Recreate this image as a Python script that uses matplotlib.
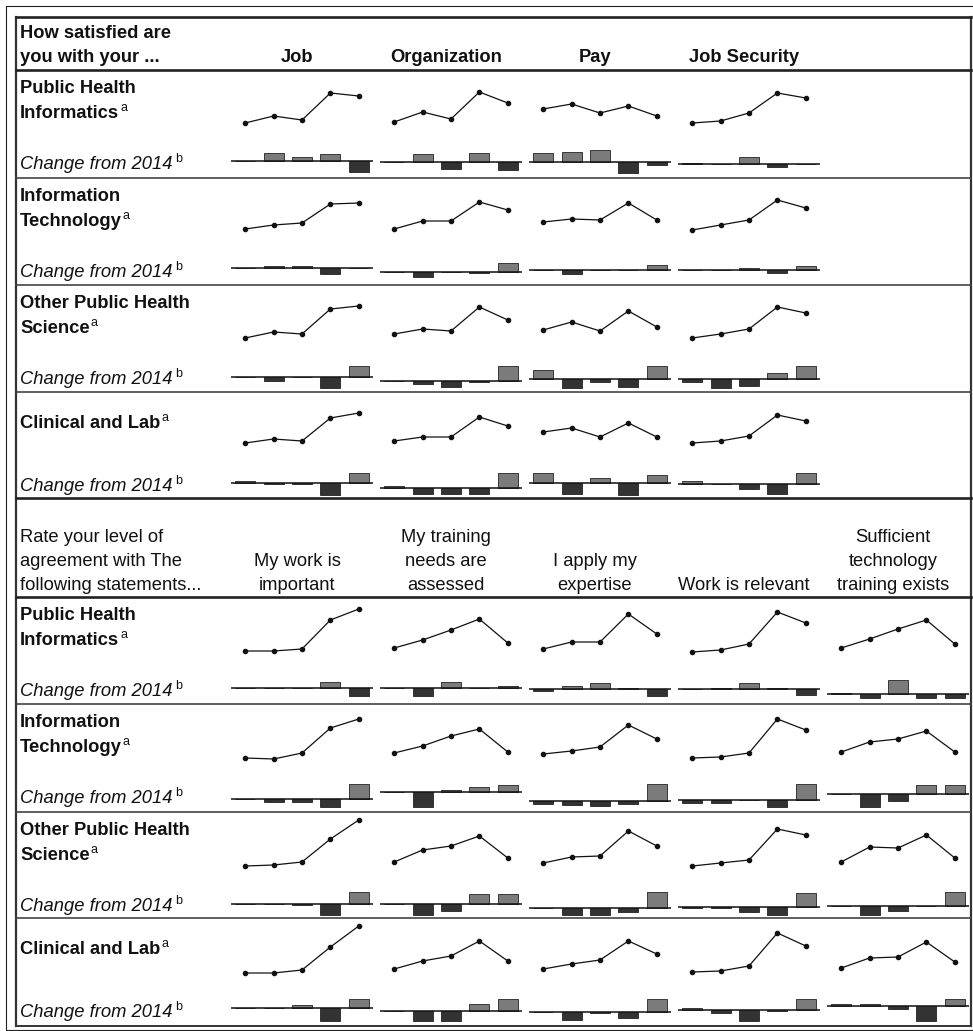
import matplotlib
matplotlib.use('Agg')
import matplotlib.pyplot as plt

W, H = 973, 1031

groups = ['Public Health\nInformatics', 'Information\nTechnology',
          'Other Public Health\nScience', 'Clinical and Lab']
change_label = 'Change from 2014'
sat_title = 'How satisfied are\nyou with your ...'
sat_questions = ['Job', 'Organization', 'Pay', 'Job Security']
agree_title = 'Rate your level of\nagreement with The\nfollowing statements...'
agree_questions = ['My work is\nimportant', 'My training\nneeds are\nassessed',
                   'I apply my\nexpertise', 'Work is relevant',
                   'Sufficient\ntechnology\ntraining exists']

# trend score over 5 survey waves, one list per question
sat_phi_trend = [[7, 14, 10, 37, 34], [8, 18, 11, 38, 27], [21, 26, 17, 24, 14], [7, 9, 17, 37, 32]]
sat_it_trend = [[9, 13, 15, 34, 35], [9, 17, 17, 36, 28], [16, 19, 18, 35, 18], [8, 13, 18, 38, 30]]
sat_ophs_trend = [[7, 13, 11, 36, 39], [11, 16, 14, 38, 25], [15, 23, 14, 34, 18], [7, 11, 16, 38, 32]]
sat_clin_trend = [[9, 13, 11, 34, 39], [11, 15, 15, 35, 26], [20, 24, 15, 29, 15], [9, 11, 16, 37, 31]]

# change from 2014
sat_phi_change = [[0, 8, 4, 7, -11], [0, 8, -7, 9, -8], [9, 10, 12, -11, -3], [1, 0, 7, -3, 0]]
sat_it_change = [[0, 2, 2, -6, 0], [0, -5, 0, -1, 9], [0, -4, 0, 0, 5], [0, 0, 2, -3, 4]]
sat_ophs_change = [[0, -4, 0, -11, 11], [0, -3, -6, -1, 15], [9, -9, -3, -8, 13], [-3, -9, -7, 6, 13]]
sat_clin_change = [[2, -1, -1, -12, 10], [2, -6, -6, -6, 15], [10, -11, 5, -12, 8], [3, 0, -5, -10, 11]]

agree_phi_trend = [[6, 6, 8, 37, 48], [9, 17, 27, 38, 14], [8, 15, 15, 43, 23], [5, 7, 13, 45, 34], [9, 18, 28, 37, 13]]
agree_it_trend = [[6, 5, 11, 36, 45], [11, 18, 28, 35, 12], [10, 13, 17, 39, 25], [6, 7, 11, 45, 34], [12, 22, 25, 33, 12]]
agree_ophs_trend = [[6, 7, 10, 33, 52], [10, 22, 26, 36, 14], [9, 15, 16, 41, 26], [6, 9, 12, 43, 37], [10, 25, 24, 37, 14]]
agree_clin_trend = [[5, 5, 8, 31, 52], [9, 17, 22, 37, 17], [9, 14, 18, 37, 24], [6, 7, 12, 45, 32], [10, 20, 21, 36, 16]]

agree_phi_change = [[0, 0, 0, 6, -8], [0, -8, 6, 0, 2], [-2, 3, 6, 1, -7], [0, 1, 6, 1, -6], [1, -4, 14, -4, -4]]
agree_it_change = [[0, -3, -3, -8, 15], [0, -15, 2, 5, 7], [-3, -4, -5, -3, 17], [-3, -3, 0, -7, 16], [0, -13, -7, 9, 9]]
agree_ophs_change = [[0, 0, -1, -11, 12], [0, -11, -7, 10, 10], [0, -7, -7, -4, 16], [-1, -1, -5, -8, 14], [0, -9, -5, 0, 14]]
agree_clin_change = [[0, 0, 3, -13, 9], [0, -10, -10, 7, 12], [0, -8, -1, -6, 13], [2, -3, -11, -1, 11], [2, 2, -3, -15, 7]]

FS = 13.2
SUP = 9


def frac(x, y, w, h):
    return [x / W, 1 - (y + h) / H, w / W, h / H]


def sparkline(fig, x, top, trend, change):
    ax = fig.add_axes(frac(x, top, 142, 60))
    ax.plot(range(5), trend, color='#111111', lw=0.9, marker='o', ms=3,
            clip_on=False)
    ax.set_xlim(-0.5, 4.5)
    ax.set_ylim(0, 60)
    ax.patch.set_alpha(0)
    ax.axis('off')

    bx = fig.add_axes(frac(x, top + 67, 142, 50))
    mid = 0.9 * (max(0, max(change)) + min(0, min(change))) / 2
    colors = ['#7b7b7b' if v > 0 else '#333333' for v in change]
    bx.bar(range(5), change, width=0.7, color=colors, edgecolor='#222222',
           linewidth=0.6)
    bx.axhline(0, color='#111111', lw=1.1)
    bx.set_xlim(-0.5, 4.5)
    bx.set_ylim(mid - 25, mid + 25)
    bx.patch.set_alpha(0)
    bx.axis('off')


def header(ax, top, title, questions, weight):
    lines = title.split('\n')
    step = 24
    bottom = top + (92 if len(lines) == 3 else 45)
    for i, s in enumerate(reversed(lines)):
        ax.text(20, bottom - i * step, s, fontsize=FS, fontweight=weight,
                va='baseline', ha='left')
    for c, q in enumerate(questions):
        for i, s in enumerate(reversed(q.split('\n'))):
            ax.text(297 + 149 * c, bottom - i * step, s, fontsize=FS,
                    fontweight=weight, va='baseline', ha='center')


def group_label(ax, rend, top, name):
    lines = name.split('\n')
    ys = [top + 36] if len(lines) == 1 else [top + 23, top + 48]
    for s, y in zip(lines, ys):
        t = ax.text(20, y, s, fontsize=FS, fontweight='bold', va='baseline')
    end = t.get_window_extent(rend).x1
    ax.text(end + 1, ys[-1] - 7, 'a', fontsize=SUP, va='baseline')
    t = ax.text(20, top + 99, change_label, fontsize=FS, style='italic',
                va='baseline')
    end = t.get_window_extent(rend).x1
    ax.text(end + 3, top + 92, 'b', fontsize=SUP, va='baseline')


def main():
    plt.rcParams['font.family'] = ['Liberation Sans', 'DejaVu Sans']
    plt.rcParams['text.color'] = '#111111'
    fig = plt.figure(figsize=(W / 100, H / 100), dpi=100)
    ax = fig.add_axes([0, 0, 1, 1])
    ax.set_xlim(0, W)
    ax.set_ylim(H, 0)
    ax.axis('off')
    rend = fig.canvas.get_renderer()

    # frames
    ax.plot([6, 980, 980, 6, 6], [6, 6, 1030, 1030, 6], color='#222222',
            lw=0.8, clip_on=False)
    ax.plot([16, 16], [17, 1026], color='#333333', lw=1.6)
    ax.plot([971, 971], [17, 1026], color='#333333', lw=1.6)
    for y in [17, 70, 498, 597]:
        ax.plot([16, 971], [y, y], color='#222222', lw=1.9)
    ax.plot([16, 971], [1026, 1026], color='#333333', lw=1.4)
    for y in [178, 285, 392, 704, 812, 918]:
        ax.plot([16, 971], [y, y], color='#444444', lw=1.2)

    header(ax, 17, sat_title, sat_questions, 'bold')
    header(ax, 498, agree_title, agree_questions, 'normal')

    sat_trend = [sat_phi_trend, sat_it_trend, sat_ophs_trend, sat_clin_trend]
    sat_change = [sat_phi_change, sat_it_change, sat_ophs_change, sat_clin_change]
    agree_trend = [agree_phi_trend, agree_it_trend, agree_ophs_trend, agree_clin_trend]
    agree_change = [agree_phi_change, agree_it_change, agree_ophs_change, agree_clin_change]

    top_rows = [70, 178, 285, 392]
    bottom_rows = [597, 704, 812, 918]

    for g, top in enumerate(top_rows):
        group_label(ax, rend, top, groups[g])
        for c in range(len(sat_questions)):
            sparkline(fig, 231 + 149 * c, top, sat_trend[g][c], sat_change[g][c])
    for g, top in enumerate(bottom_rows):
        group_label(ax, rend, top, groups[g])
        for c in range(len(agree_questions)):
            sparkline(fig, 231 + 149 * c, top, agree_trend[g][c], agree_change[g][c])

    fig.savefig('out.png', dpi=100, facecolor='white')


if __name__ == '__main__':
    main()
